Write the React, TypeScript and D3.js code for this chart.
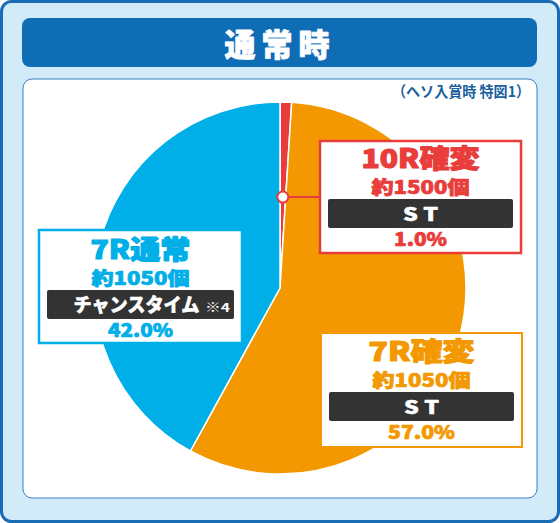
import React from "react"
import * as d3 from "d3"

// slice data, in the order drawn clockwise from 12 o'clock
const names = ["10R確変", "7R確変", "7R通常"]
const shares = [1.0, 57.0, 42.0]
const payouts = ["約1500個", "約1050個", "約1050個"]
const modes = ["S T", "S T", "チャンスタイム"]
const notes = ["", "", "※4"]
const colors = ["#e83d3a", "#f39800", "#00aee8"]
const title = "通常時"
const subtitle = "（ヘソ入賞時 特図1）"

const W = 560
const H = 523
const cx = 280
const cy = 288
const radius = 186

const font = "'Noto Sans CJK JP', 'Noto Sans', sans-serif"

// label boxes (top-left corner, size) and widths of the texts inside
const boxes = [
  { x: 320, y: 141, w: 201, h: 112, stroke: 2.5, nameW: 118, modeW: 35, pctW: 53, dy: 0 },
  { x: 321, y: 333, w: 201, h: 114, stroke: 2, nameW: 106, modeW: 35, pctW: 67, dy: 1 },
  { x: 39, y: 230, w: 203, h: 113, stroke: 2.5, nameW: 100, modeW: 126, pctW: 65, dy: 2 },
]

export default function App() {
  const pie = d3.pie<number>().sort(null).value(d => d)
  const arcs = pie(shares)
  const arc = d3.arc<d3.PieArcDatum<number>>().innerRadius(0).outerRadius(radius)

  // connector point for the thin red slice
  const mid = (arcs[0].startAngle + arcs[0].endAngle) / 2
  const dotX = cx + 91 * Math.sin(mid)
  const dotY = cy - 91 * Math.cos(mid)

  // heavy text: the bold face plus a thin stroke in the same colour
  const heavy = (c: string, w: number) => ({ fill: c, stroke: c, strokeWidth: w, strokeLinejoin: "round" as const })

  return (
    <svg width={W} height={H} viewBox={`0 0 ${W} ${H}`} style={{ position: "absolute", left: 0, top: 0 }}>
      {/* outer frame */}
      <rect x={1.5} y={1.5} width={W - 3} height={H - 3} rx={10} fill="#d2ebf8" stroke="#1a6db5" strokeWidth={3} />
      <rect x={22} y={18} width={515} height={49} rx={8} fill="#0f6db6" />
      <text x={cx} y={56} textAnchor="middle" {...heavy("#fff", 0.8)} fontFamily={font} fontWeight={900} fontSize={31} letterSpacing={6}>
        {title}
      </text>
      <rect x={23} y={79} width={514} height={419} rx={9} fill="#fff" stroke="#3b82c4" strokeWidth={1} />
      <text x={392} y={97} fill="#1d5f9e" fontFamily={font} fontWeight={700} fontSize={15}
        textLength={138} lengthAdjust="spacingAndGlyphs">
        {subtitle}
      </text>

      {/* pie */}
      <g transform={`translate(${cx},${cy})`}>
        {arcs.map((a, i) => (
          <path key={i} d={arc(a) || ""} fill={colors[i]} stroke="#fff" strokeWidth={1.5} strokeLinejoin="round" />
        ))}
      </g>

      {/* connector to the 10R box */}
      <line x1={dotX} y1={dotY} x2={boxes[0].x} y2={dotY} stroke={colors[0]} strokeWidth={2} />
      <circle cx={dotX} cy={dotY} r={5.5} fill="#fff" stroke={colors[0]} strokeWidth={2} />

      {/* labels */}
      {names.map((n, i) => {
        const b = boxes[i]
        const mx = b.x + b.w / 2
        const top = b.y + b.dy
        return (
          <g key={n} fontFamily={font} fontWeight={900}>
            <rect x={b.x} y={b.y} width={b.w} height={b.h} fill="#fff" stroke={colors[i]} strokeWidth={b.stroke} />
            <text x={mx} y={top + 27} textAnchor="middle" {...heavy(colors[i], 1.1)} fontSize={26}
              textLength={b.nameW} lengthAdjust="spacingAndGlyphs">
              {n}
            </text>
            <text x={mx} y={top + 53} textAnchor="middle" {...heavy(colors[i], 0.7)} fontSize={18.5}
              textLength={98} lengthAdjust="spacingAndGlyphs">
              {payouts[i]}
            </text>
            <rect x={b.x + 8} y={top + 58} width={b.w - 16} height={29} rx={2} fill="#333" />
            <text x={notes[i] ? mx - 4 : mx} y={top + 80} textAnchor="middle" {...heavy("#fff", 0.5)}
              fontSize={notes[i] ? 19 : 18} textLength={b.modeW} lengthAdjust="spacingAndGlyphs">
              {modes[i]}
            </text>
            {notes[i] && (
              <text x={mx + 77} y={top + 80} textAnchor="middle" fill="#fff" fontWeight={700} fontSize={12}
                textLength={25} lengthAdjust="spacingAndGlyphs">
                {notes[i]}
              </text>
            )}
            <text x={mx} y={top + 105} textAnchor="middle" {...heavy(colors[i], 0.7)} fontSize={19}
              textLength={b.pctW} lengthAdjust="spacingAndGlyphs">
              {shares[i].toFixed(1)}%
            </text>
          </g>
        )
      })}
    </svg>
  )
}
